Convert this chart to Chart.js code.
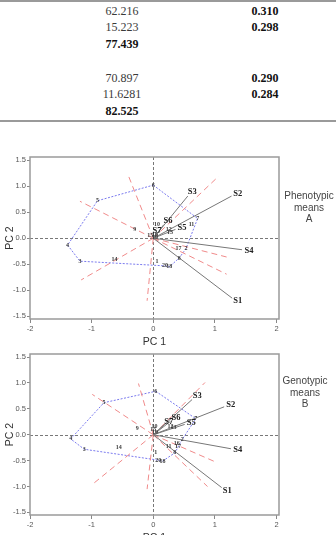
<!DOCTYPE html>
<html>
<head>
<meta charset="utf-8">
<script src="https://cdn.jsdelivr.net/npm/chart.js@4.4.1/dist/chart.umd.min.js"></script>
<style>
body{margin:0;width:336px;height:535px;overflow:hidden;background:#fff;position:relative;font-family:"Liberation Sans",Arial,sans-serif}
.rule{position:absolute;left:0;width:336px;height:2px;background:#9a9a9a}
.cell{position:absolute;width:90px;height:14px;line-height:14px;text-align:center;font-family:"Liberation Serif","Times New Roman",serif;font-size:12px;color:#3a3a3a}
.cell.b{font-weight:bold;color:#111}
.side{position:absolute;width:70px;text-align:center;font-size:10px;line-height:11.5px;color:#444}
canvas{position:absolute;left:0}
</style>
</head>
<body>
<div class="rule" style="top:0"></div>
<div class="rule" style="top:120px"></div>
<div id="table"></div>

<canvas id="chartA" width="336" height="210" style="top:140px"></canvas>
<canvas id="chartB" width="336" height="205" style="top:340px"></canvas>

<div class="side" style="left:274px;top:190px">Phenotypic<br>means<br>A</div>
<div class="side" style="left:270px;top:375px">Genotypic<br>means<br>B</div>

<script>
// table values
const leftCol = ['62.216', '15.223', '77.439', '', '70.897', '11.6281', '82.525'];
const leftBold = [false, false, true, false, false, false, true];
const rightCol = ['0.310', '0.298', '', '', '0.290', '0.284', ''];

// axis ticks
const xTicks = [-2, -1, 0, 1, 2];
const yTicks = [-1.5, -1, -0.5, 0, 0.5, 1, 1.5];

// genotypes
const genoLabels = ['1','2','3','4','5','6','7','8','9','10','11','12','13','14','15','16','17','18','19','20'];
const genoAx = [0.06, 0.53, -1.19, -1.39, -0.905, 0.0, 0.72, 0.42, -0.30, 0.06, 0.62, 0.25, 0.27, -0.63, -0.05, 0.03, 0.41, 0.26, 0.03, 0.19];
const genoAy = [-0.45, -0.20, -0.44, -0.13, 0.72, 1.02, 0.38, -0.38, 0.16, 0.26, 0.26, 0.16, 0.12, -0.40, 0.05, 0.07, -0.19, -0.55, 0.02, -0.53];
const genoBx = [0.04, 0.47, -1.12, -1.34, -0.80, 0.04, 0.69, 0.35, -0.26, 0.02, 0.25, 0.28, 0.33, -0.56, 0.0, 0.38, 0.40, 0.15, 0.03, 0.08];
const genoBy = [-0.35, -0.09, -0.28, -0.08, 0.62, 0.84, 0.31, -0.35, 0.13, 0.16, -0.23, 0.17, 0.14, -0.25, 0.10, -0.17, -0.23, -0.51, 0.05, -0.49];

// polygon (by genotype label)
const hullA = ['6', '7', '2', '8', '18', '20', '3', '4', '5'];
const hullB = ['6', '7', '2', '8', '18', '20', '3', '4', '5'];

// environments
const envLabels = ['S1', 'S2', 'S3', 'S4', 'S5', 'S6', 'S7'];
const envAx = [1.28, 1.27, 0.56, 1.44, 0.36, 0.17, 0.02];
const envAy = [-1.15, 0.81, 0.81, -0.22, 0.17, 0.26, 0.06];
const envBx = [1.11, 1.15, 0.63, 1.26, 0.51, 0.28, 0.17];
const envBy = [-1.02, 0.54, 0.68, -0.27, 0.20, 0.26, 0.19];

// sector lines
const rayAx = [1.06, -0.41, -1.19, -1.17, -0.10, 1.19, 1.19];
const rayAy = [1.19, 1.22, 0.71, -0.80, -1.20, -0.36, -0.69];
const rayBx = [0.84, -0.24, -0.99, -1.00, -0.10, 1.00, 0.88];
const rayBy = [1.01, 0.99, 0.78, -0.97, -1.05, -0.52, -1.00];

// build table
const table = document.getElementById('table');
leftCol.forEach((t, i) => {
  const top = 10.7 + i * 16.7 - 7;
  if (t) {
    const d = document.createElement('div');
    d.className = 'cell' + (leftBold[i] ? ' b' : '');
    d.style.left = '77px';
    d.style.top = top + 'px';
    d.textContent = t;
    table.appendChild(d);
  }
  if (rightCol[i]) {
    const d = document.createElement('div');
    d.className = 'cell b';
    d.style.left = '220px';
    d.style.top = top + 'px';
    d.textContent = rightCol[i];
    table.appendChild(d);
  }
});

function segments(xs, ys, color, dash) {
  return xs.map((v, i) => ({
    data: [{x: 0, y: 0}, {x: v, y: ys[i]}],
    showLine: true,
    borderColor: color,
    borderWidth: 1,
    borderDash: dash,
    pointRadius: 0
  }));
}

function biplot(gx, gy, ex, ey) {
  return {
    id: 'biplot',
    beforeDatasetsDraw(chart) {
      const {ctx, chartArea: a, scales: {x, y}} = chart;
      ctx.save();
      ctx.strokeStyle = '#555';
      ctx.lineWidth = 0.8;
      ctx.setLineDash([3, 2]);
      ctx.beginPath();
      const px = Math.round(x.getPixelForValue(0)) + 0.5;
      const py = Math.round(y.getPixelForValue(0)) + 0.5;
      ctx.moveTo(px, a.top); ctx.lineTo(px, a.bottom);
      ctx.moveTo(a.left, py); ctx.lineTo(a.right, py);
      ctx.stroke();
      ctx.restore();
    },
    afterDatasetsDraw(chart) {
      const {ctx, scales: {x, y}} = chart;
      const x0 = x.getPixelForValue(0), y0 = y.getPixelForValue(0);
      ctx.save();
      ctx.textAlign = 'center';
      ctx.textBaseline = 'middle';
      ctx.fillStyle = '#3a3a3a';
      ctx.font = 'bold 6px "Liberation Serif"';
      genoLabels.forEach((t, i) => {
        ctx.fillText(t, x.getPixelForValue(gx[i]), y.getPixelForValue(gy[i]));
      });
      ctx.fillStyle = '#222';
      ctx.font = 'bold 8.5px "Liberation Serif"';
      envLabels.forEach((t, i) => {
        const px = x.getPixelForValue(ex[i]), py = y.getPixelForValue(ey[i]);
        const dx = px - x0, dy = py - y0;
        const len = Math.hypot(dx, dy) || 1;
        ctx.fillText(t, px + dx / len * 7, py + dy / len * 5);
      });
      ctx.restore();
    },
    afterDraw(chart) {
      const {ctx, chartArea: a} = chart;
      ctx.save();
      ctx.strokeStyle = '#9a9a9a';
      ctx.lineWidth = 1.5;
      ctx.strokeRect(a.left, a.top, a.right - a.left, a.bottom - a.top);
      ctx.restore();
    }
  };
}

function makeChart(id, gx, gy, hull, ex, ey, rx, ry, padTop, xHeight, titleBottom) {
  const hullPts = hull.concat(hull[0]).map(l => {
    const i = genoLabels.indexOf(l);
    return {x: gx[i], y: gy[i]};
  });
  const datasets = []
    .concat(segments(ex, ey, '#777', []))
    .concat(segments(rx, ry, '#f08a8a', [6, 4]))
    .concat([{
      data: hullPts,
      showLine: true,
      borderColor: '#7a7aee',
      borderWidth: 1,
      borderDash: [2, 1.5],
      pointRadius: 0
    }]);

  return new Chart(document.getElementById(id), {
    type: 'scatter',
    data: {datasets},
    options: {
      responsive: false,
      animation: false,
      layout: {autoPadding: false, padding: {top: padTop, right: 57, left: 0, bottom: 0}},
      plugins: {legend: {display: false}, tooltip: {enabled: false}},
      scales: {
        x: {
          type: 'linear',
          min: -2,
          max: 2.04,
          afterBuildTicks: s => { s.ticks = xTicks.map(v => ({value: v})); },
          afterFit: s => { s.height = xHeight; },
          ticks: {font: {size: 7.5, family: 'Liberation Sans'}, color: '#555', padding: 1, maxRotation: 0, callback: v => String(v)},
          grid: {drawOnChartArea: false, tickLength: 4, color: '#888'},
          border: {display: false},
          title: {display: true, text: 'PC 1', color: '#333', font: {size: 10.5, family: 'Liberation Sans'}, padding: {top: 0, bottom: titleBottom}}
        },
        y: {
          type: 'linear',
          min: -1.55,
          max: 1.56,
          afterBuildTicks: s => { s.ticks = yTicks.map(v => ({value: v})); },
          afterFit: s => { s.width = 30; },
          ticks: {font: {size: 7.5, family: 'Liberation Sans'}, color: '#555', padding: 1, callback: v => v.toFixed(1)},
          grid: {drawOnChartArea: false, tickLength: 3, color: '#888'},
          border: {display: false},
          title: {display: true, text: 'PC 2', color: '#333', font: {size: 10.5, family: 'Liberation Sans'}, padding: {top: 4, bottom: 0}}
        }
      }
    },
    plugins: [biplot(gx, gy, ex, ey)]
  });
}

makeChart('chartA', genoAx, genoAy, hullA, envAx, envAy, rayAx, rayAy, 17, 31, 1.7);
makeChart('chartB', genoBx, genoBy, hullB, envBx, envBy, rayBx, rayBy, 14, 30, 0.7);
</script>
</body>
</html>
